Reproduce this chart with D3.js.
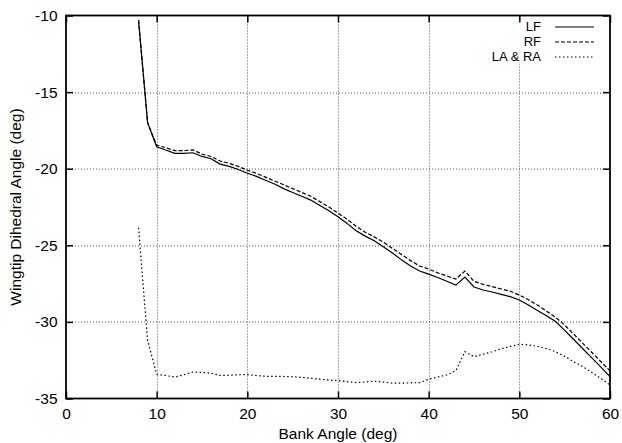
<!DOCTYPE html>
<html>
<head>
<meta charset="utf-8">
<script src="https://cdn.jsdelivr.net/npm/d3@7"></script>
<style>
  body { margin: 0; background: #fff; }
  svg text { font-family: "Liberation Sans", Arial, Helvetica, sans-serif; font-size: 15.5px; fill: #000; }
</style>
</head>
<body>
<svg id="chart" width="622" height="443"></svg>
<script>
// bank angle (deg)
const bankAngle = [8, 9, 10, 11, 12, 13, 14, 15, 16, 17, 18, 19, 20, 21, 22, 23, 24, 25, 26, 27, 28, 29,
	30, 31, 32, 33, 34, 35, 36, 37, 38, 39, 40, 41, 42, 43, 44, 45, 46, 47, 48, 49, 50, 51, 52, 53,
	54, 55, 56, 57, 58, 59, 60];

const lf = [-10.3, -17.0, -18.57, -18.78, -19.0, -19.0, -18.96, -19.2, -19.35, -19.7, -19.85, -20.05,
	-20.3, -20.5, -20.75, -21.0, -21.3, -21.55, -21.8, -22.05, -22.4, -22.75, -23.14, -23.57, -24.05,
	-24.4, -24.7, -25.1, -25.5, -25.95, -26.35, -26.68, -26.88, -27.1, -27.35, -27.6, -27.08, -27.72,
	-27.92, -28.05, -28.2, -28.35, -28.57, -28.9, -29.25, -29.6, -29.98, -30.55, -31.15, -31.75,
	-32.35, -32.95, -33.57];

const rf = [-10.3, -17.0, -18.47, -18.63, -18.82, -18.82, -18.77, -19.05, -19.2, -19.5, -19.65, -19.85,
	-20.1, -20.3, -20.55, -20.8, -21.05, -21.3, -21.55, -21.8, -22.15, -22.5, -22.9, -23.3, -23.75,
	-24.15, -24.45, -24.8, -25.2, -25.6, -26.0, -26.35, -26.55, -26.8, -27.0, -27.2, -26.68, -27.35,
	-27.55, -27.7, -27.85, -28.0, -28.25, -28.55, -28.9, -29.3, -29.7, -30.2, -30.8, -31.4, -32.0,
	-32.6, -33.2];

const laRa = [-23.85, -31.2, -33.42, -33.5, -33.6, -33.45, -33.27, -33.3, -33.35, -33.5, -33.48, -33.45,
	-33.44, -33.5, -33.55, -33.55, -33.56, -33.58, -33.62, -33.68, -33.74, -33.8, -33.83, -33.9, -33.96,
	-33.92, -33.87, -33.93, -34.0, -34.0, -33.98, -33.96, -33.74, -33.6, -33.46, -33.18, -31.94, -32.27,
	-32.11, -31.95, -31.75, -31.6, -31.46, -31.5, -31.6, -31.75, -31.94, -32.25, -32.6, -32.92, -33.3,
	-33.7, -34.12];

const xTicks = [0, 10, 20, 30, 40, 50, 60];
const yTicks = [-10, -15, -20, -25, -30, -35];

const seriesNames = ['LF', 'RF', 'LA & RA'];
const seriesDash = [null, '4,2', '1.5,2.5'];

const margin = {left: 66, right: 12, top: 15.5, bottom: 44.5};
const width = 622 - margin.left - margin.right;
const height = 443 - margin.top - margin.bottom;

const svg = d3.select('#chart');
const g = svg.append('g').attr('transform', `translate(${margin.left},${margin.top})`);

let x = d3.scaleLinear().domain([0, 60]).range([0, width]);
let y = d3.scaleLinear().domain([-35, -10]).range([height, 0]);

// plain hyphen for negatives, like the original
const fmt = d => String(d);

// grid
g.append('g')
	.selectAll('line.vgrid')
	.data(xTicks.slice(1, -1))
	.join('line')
	.attr('x1', d => Math.round(x(d)) + 0.5)
	.attr('x2', d => Math.round(x(d)) + 0.5)
	.attr('y1', 0)
	.attr('y2', height)
	.attr('stroke', '#555')
	.attr('stroke-dasharray', '1,2');

g.append('g')
	.selectAll('line.hgrid')
	.data(yTicks.slice(1, -1))
	.join('line')
	.attr('y1', d => Math.round(y(d)) + 0.5)
	.attr('y2', d => Math.round(y(d)) + 0.5)
	.attr('x1', 0)
	.attr('x2', width)
	.attr('stroke', '#555')
	.attr('stroke-dasharray', '1,2');

// legend background covers the grid
g.append('rect')
	.attr('x', 414)
	.attr('y', 4)
	.attr('width', 122)
	.attr('height', 44)
	.attr('fill', '#fff');

// data lines
const allSeries = [lf, rf, laRa];
const line = d3.line()
	.x((d, i) => x(bankAngle[i]))
	.y(d => y(d));

allSeries.forEach((vals, i) => {
	g.append('path')
		.datum(vals)
		.attr('d', line)
		.attr('fill', 'none')
		.attr('stroke', '#000')
		.attr('stroke-width', 1.2)
		.attr('stroke-dasharray', seriesDash[i]);
});

// axes: inward ticks on all four sides
const tickLen = 7;
g.append('g')
	.attr('transform', `translate(0,${height})`)
	.call(d3.axisBottom(x).tickValues(xTicks).tickSizeInner(-tickLen).tickSizeOuter(0).tickPadding(9).tickFormat(fmt))
	.call(a => a.select('.domain').remove());

g.append('g')
	.call(d3.axisTop(x).tickValues(xTicks).tickSizeInner(-tickLen).tickSizeOuter(0).tickFormat(''))
	.call(a => a.select('.domain').remove());

g.append('g')
	.call(d3.axisLeft(y).tickValues(yTicks).tickSizeInner(-tickLen).tickSizeOuter(0).tickPadding(8.5).tickFormat(fmt))
	.call(a => a.select('.domain').remove());

g.append('g')
	.attr('transform', `translate(${width},0)`)
	.call(d3.axisRight(y).tickValues(yTicks).tickSizeInner(-tickLen).tickSizeOuter(0).tickFormat(''))
	.call(a => a.select('.domain').remove());

g.selectAll('.tick line').attr('stroke', '#000').attr('stroke-width', 1.5);
g.selectAll('.tick text')
	.style('font-size', '15.5px')
	.style('font-family', '"Liberation Sans", Arial, Helvetica, sans-serif')
	.attr('fill', '#000');

// frame
g.append('rect')
	.attr('x', 0)
	.attr('y', 0)
	.attr('width', width)
	.attr('height', height)
	.attr('fill', 'none')
	.attr('stroke', '#000')
	.attr('stroke-width', 1.8);

// axis titles
svg.append('text')
	.attr('x', margin.left + width / 2)
	.attr('y', 439)
	.attr('text-anchor', 'middle')
	.text('Bank Angle (deg)');

svg.append('text')
	.attr('transform', `translate(21,${margin.top + height / 2}) rotate(-90)`)
	.attr('text-anchor', 'middle')
	.text('Wingtip Dihedral Angle (deg)');

// legend
const legend = g.append('g');
seriesNames.forEach((name, i) => {
	let ly = 11 + i * 15;
	legend.append('text')
		.attr('x', 475)
		.attr('y', ly)
		.attr('dy', '0.35em')
		.attr('text-anchor', 'end')
		.style('font-size', '13px')
		.text(name);
	legend.append('line')
		.attr('x1', 489)
		.attr('x2', 528)
		.attr('y1', ly + 0.5)
		.attr('y2', ly + 0.5)
		.attr('stroke', '#000')
		.attr('stroke-width', 1.2)
		.attr('stroke-dasharray', seriesDash[i]);
});
</script>
</body>
</html>
